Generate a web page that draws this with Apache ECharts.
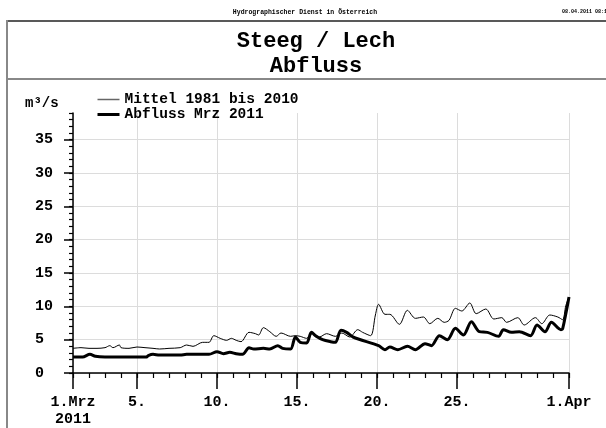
<!DOCTYPE html>
<html>
<head>
<meta charset="utf-8">
<script src="https://cdn.jsdelivr.net/npm/echarts@6/dist/echarts.min.js"></script>
<style>
  html, body { margin: 0; padding: 0; background: #fff; }
  #chart { width: 606px; height: 428px; }
</style>
</head>
<body>
<div id="chart"></div>
<script>
// Abfluss Steeg / Lech, März 2011 — Tage seit 1. März 00:00
const mittelDay = [0, 0.5, 1.0, 1.5, 2.0, 2.3, 2.5, 2.9, 3.0, 3.5, 4.0, 4.5, 5.0, 5.4, 6.0, 6.7, 7.1, 7.5,
  8.1, 8.5, 8.8, 9.2, 9.6, 9.9, 10.2, 10.5, 11.0, 11.4, 11.6, 11.9, 12.3, 12.7, 13.0, 13.6, 13.9,
  14.2, 14.6, 15.0, 15.4, 15.85, 16.4, 16.8, 17.3, 17.8, 18.1, 18.6, 18.9, 19.1, 19.5, 19.8, 20.4,
  20.9, 21.4, 21.9, 22.3, 22.8, 23.2, 23.5, 23.9, 24.3, 24.8, 25.2, 25.8, 26.3, 26.8, 27.1, 27.8,
  28.2, 28.9, 29.3, 29.8, 30.3, 30.6, 30.8, 31.0];
const mittelQ = [3.7, 3.8, 3.7, 3.7, 3.8, 4.1, 3.8, 4.2, 3.8, 3.7, 3.9, 3.8, 3.7, 3.6, 3.7, 3.8, 4.2, 4.0,
  4.6, 4.6, 5.6, 5.2, 4.9, 5.2, 4.9, 4.7, 6.1, 5.9, 5.7, 6.8, 6.2, 5.5, 6.0, 5.5, 5.6,
  5.5, 5.2, 6.0, 5.4, 5.9, 5.5, 6.0, 5.4, 6.5, 6.1, 5.6, 8.7, 10.3, 8.8, 8.8, 7.3,
  9.4, 8.2, 8.4, 7.4, 8.2, 7.6, 7.9, 9.7, 9.3, 10.5, 8.9, 9.6, 8.1, 8.3, 7.6, 8.3,
  7.2, 8.3, 7.4, 8.7, 8.4, 8.0, 10.1, 11.4];

const abflussDay = [0, 0.6, 1.06, 1.4, 2.0, 2.5, 3.0, 3.5, 4.0, 4.6, 4.7, 5.0, 5.4, 6.0, 6.7, 7.1, 7.5,
  8.0, 8.5, 9.0, 9.4, 9.8, 10.2, 10.6, 11.0, 11.3, 11.9, 12.3, 12.8, 13.1, 13.6, 13.9, 14.2, 14.6,
  14.9, 15.2, 15.6, 16.1, 16.4, 16.75, 17.1, 17.5, 19.1, 19.5, 19.8, 20.3, 20.9, 21.4, 22.0, 22.4,
  22.9, 23.4, 23.9, 24.4, 24.9, 25.4, 25.9, 26.6, 26.9, 27.4, 27.9, 28.6, 29.0, 29.5, 29.9, 30.5,
  30.6, 31.0];
const abflussQ = [2.4, 2.4, 2.8, 2.5, 2.4, 2.4, 2.4, 2.4, 2.4, 2.4, 2.6, 2.8, 2.7, 2.7, 2.7, 2.8, 2.8,
  2.8, 2.8, 3.2, 2.9, 3.1, 2.9, 2.8, 3.8, 3.6, 3.7, 3.6, 4.1, 3.7, 3.6, 5.4, 4.6, 4.5,
  6.1, 5.5, 5.0, 4.7, 4.6, 6.4, 6.1, 5.4, 4.1, 3.5, 3.9, 3.5, 4.0, 3.5, 4.4, 4.1,
  5.6, 5.0, 6.7, 5.7, 7.7, 6.2, 6.1, 5.5, 6.5, 6.1, 6.2, 5.6, 7.2, 6.2, 7.6, 6.5,
  6.6, 11.4];

const seriesNames = ['Mittel 1981 bis 2010', 'Abfluss Mrz 2011'];
const xMajorDays = [0, 4, 9, 14, 19, 24, 31];
const xTickLabels = ['1.Mrz\n2011', '5.', '10.', '15.', '20.', '25.', '1.Apr'];
const yTicks = [0, 5, 10, 15, 20, 25, 30, 35];

const MONO = '"Liberation Mono", "DejaVu Sans Mono", monospace';
const GRID = '#dcdcdc';

const zip = (xs, ys) => xs.map((x, i) => [x, ys[i]]);

const chart = echarts.init(document.getElementById('chart'), null, { renderer: 'canvas' });

chart.setOption({
  animation: false,
  backgroundColor: '#fff',
  title: {
    text: 'Steeg / Lech\nAbfluss',
    left: 311,
    top: 24,
    textAlign: 'center',
    textStyle: { fontFamily: MONO, fontWeight: 'bold', fontSize: 22, lineHeight: 25, color: '#000' }
  },
  legend: {
    orient: 'vertical',
    left: 96,
    top: 92,
    itemWidth: 22,
    itemHeight: 10,
    itemGap: 0,
    padding: 0,
    selectedMode: false,
    textStyle: { fontFamily: MONO, fontWeight: 'bold', fontSize: 14.5, lineHeight: 12, color: '#000' },
    data: [
      { name: seriesNames[0], itemStyle: { opacity: 0 }, lineStyle: { color: '#666', width: 1.5 } },
      { name: seriesNames[1], itemStyle: { opacity: 0 }, lineStyle: { color: '#000', width: 3 } }
    ]
  },
  grid: { left: 73, right: 37, top: 113, bottom: 51, containLabel: false },
  xAxis: [
    {
      type: 'value', min: 0, max: 31, interval: 1, position: 'bottom',
      axisLine: { show: true, lineStyle: { color: '#000', width: 1.5 } },
      axisTick: { show: true, length: 5, lineStyle: { color: '#000', width: 1.2 } },
      axisLabel: { show: false },
      splitLine: { show: false }
    },
    {
      type: 'value', min: 0, max: 31, interval: 31, position: 'bottom',
      axisLine: { show: false },
      axisTick: { show: true, length: 16, customValues: xMajorDays, lineStyle: { color: '#000', width: 1.5 } },
      axisLabel: {
        customValues: xMajorDays, margin: 21,
        fontFamily: MONO, fontWeight: 'bold', fontSize: 15, lineHeight: 17, color: '#000',
        formatter: v => xTickLabels[xMajorDays.indexOf(v)] || ''
      },
      splitLine: { show: true, lineStyle: { color: GRID, width: 1 } }
    }
  ],
  yAxis: [
    {
      type: 'value', min: 0, max: 39, interval: 5, position: 'left',
      axisLine: { show: true, lineStyle: { color: '#000', width: 1.5 } },
      axisTick: { show: true, length: 9, customValues: yTicks, lineStyle: { color: '#000', width: 1.5 } },
      axisLabel: {
        customValues: yTicks, align: 'left', margin: 38,
        fontFamily: MONO, fontWeight: 'bold', fontSize: 15, color: '#000'
      },
      splitLine: { show: true, lineStyle: { color: GRID, width: 1 } }
    },
    {
      type: 'value', min: 0, max: 39, interval: 1, position: 'left',
      axisLine: { show: false },
      axisTick: { show: true, length: 4, lineStyle: { color: '#000', width: 1.2 } },
      axisLabel: { show: false },
      splitLine: { show: false }
    }
  ],
  series: [
    {
      name: seriesNames[0], type: 'line', xAxisIndex: 0, yAxisIndex: 0,
      data: zip(mittelDay, mittelQ), symbol: 'none', smooth: 0.3,
      lineStyle: { color: '#000', width: 1 }, itemStyle: { color: '#000' }, z: 3
    },
    {
      name: seriesNames[1], type: 'line', xAxisIndex: 0, yAxisIndex: 0,
      data: zip(abflussDay, abflussQ), symbol: 'none', smooth: 0.3,
      lineStyle: { color: '#000', width: 3 }, itemStyle: { color: '#000' }, z: 4
    }
  ],
  graphic: [
    // page frame
    { type: 'line', shape: { x1: 7, y1: 21, x2: 606, y2: 21 }, style: { stroke: '#222', lineWidth: 1.5 } },
    { type: 'line', shape: { x1: 7, y1: 20, x2: 7, y2: 428 }, style: { stroke: '#888', lineWidth: 2 } },
    { type: 'line', shape: { x1: 7, y1: 79, x2: 606, y2: 79 }, style: { stroke: '#888', lineWidth: 2 } },
    // header line
    {
      type: 'text', x: 305, y: 12,
      style: { text: 'Hydrographischer Dienst in Österreich', fontFamily: MONO, fontWeight: 'bold',
        fontSize: 6.5, fill: '#000', align: 'center', verticalAlign: 'middle' }
    },
    {
      type: 'text', x: 562, y: 12,
      style: { text: '08.04.2011 08:15', fontFamily: MONO, fontWeight: 'bold',
        fontSize: 5, fill: '#000', align: 'left', verticalAlign: 'middle' }
    },
    // unit
    {
      type: 'text', x: 25, y: 103,
      style: { text: 'm³/s', fontFamily: MONO, fontWeight: 'bold', fontSize: 14, fill: '#000',
        align: 'left', verticalAlign: 'middle' }
    }
  ]
});
</script>
</body>
</html>
